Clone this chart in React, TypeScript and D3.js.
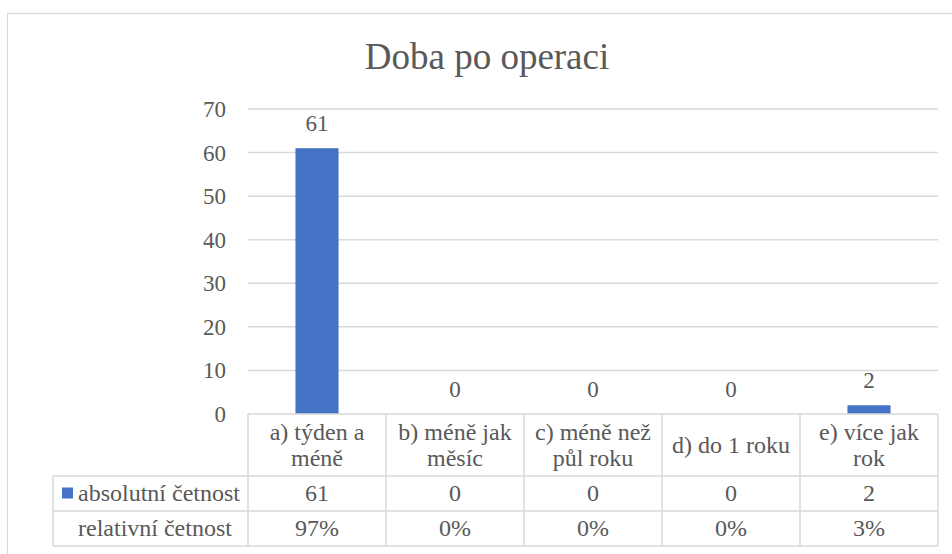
import React from "react";
import * as d3 from "d3";

const title = "Doba po operaci";
const categories = [
  ["a) týden a", "méně"],
  ["b) méně jak", "měsíc"],
  ["c) méně než", "půl roku"],
  ["d) do 1 roku"],
  ["e) více jak", "rok"],
];
const absolute = [61, 0, 0, 0, 2];
const relative = ["97%", "0%", "0%", "0%", "3%"];
const seriesNames = ["absolutní četnost", "relativní četnost"];
const yTicks = [0, 10, 20, 30, 40, 50, 60, 70];

const W = 952;
const H = 554;
const FONT = "Liberation Serif";
const TEXT = "#595959";
const GRID = "#d9d9d9";
const BAR = "#4472C4";

const left = 248;
const right = 938;
const top = 109;
const bottom = 414;
const headerBottom = 476;
const row2Bottom = 511;
const tableBottom = 546;
const tableLeft = 53;

export default function App() {
  const idx = d3.range(categories.length);
  const x = d3.scaleBand<number>().domain(idx).range([left, right]).paddingInner(0.688).paddingOuter(0.344);
  const cols = d3.scaleBand<number>().domain(idx).range([left, right]);
  const y = d3.scaleLinear().domain([0, 70]).range([bottom, top]);

  const ts = { fontFamily: FONT };
  const colX = (i: number) => cols(i)! + cols.bandwidth() / 2;
  const rows = [absolute.map(String), relative];
  const rowMids = [(headerBottom + row2Bottom) / 2, (row2Bottom + tableBottom) / 2];
  const headerMid = (bottom + headerBottom) / 2;

  const hLines = [
    [left, bottom, right, bottom],
    [tableLeft, headerBottom, right, headerBottom],
    [tableLeft, row2Bottom, right, row2Bottom],
    [tableLeft, tableBottom, right, tableBottom],
    [tableLeft, headerBottom, tableLeft, tableBottom],
  ];
  const vLines = idx.map((i) => cols(i)!).concat([right]);

  return (
    <svg width={W} height={H} style={{ position: "absolute", left: 0, top: 0 }}>
      <rect x={7.5} y={13.5} width={W + 20} height={H + 20} fill="white" stroke={GRID} strokeWidth={1.2} />
      <text x={487} y={69} textAnchor="middle" fontSize={37} fill={TEXT} style={ts}>
        {title}
      </text>

      {yTicks
        .filter((t) => t > 0)
        .map((t) => (
          <line key={"g" + t} x1={left} x2={right} y1={y(t)} y2={y(t)} stroke={GRID} strokeWidth={1.5} />
        ))}
      {yTicks.map((t) => (
        <text key={"y" + t} x={226} y={y(t)} dy="0.35em" textAnchor="end" fontSize={23} fill={TEXT} style={ts}>
          {t}
        </text>
      ))}

      {absolute.map((v, i) => (
        <rect key={"b" + i} x={x(i)} width={x.bandwidth()} y={y(v)} height={bottom - y(v)} fill={BAR} />
      ))}
      {absolute.map((v, i) => (
        <text
          key={"l" + i}
          x={x(i)! + x.bandwidth() / 2}
          y={y(v) - 17}
          textAnchor="middle"
          fontSize={23}
          fill={TEXT}
          style={ts}
        >
          {v}
        </text>
      ))}

      {hLines.map((l, i) => (
        <line key={"h" + i} x1={l[0]} y1={l[1]} x2={l[2]} y2={l[3]} stroke={GRID} strokeWidth={1.5} />
      ))}
      {vLines.map((vx, i) => (
        <line key={"v" + i} x1={vx} y1={bottom} x2={vx} y2={tableBottom} stroke={GRID} strokeWidth={1.5} />
      ))}

      {categories.map((lines, i) =>
        lines.map((s, k) => (
          <text
            key={"c" + i + k}
            x={colX(i)}
            y={headerMid + (k - (lines.length - 1) / 2) * 26}
            dy="0.33em"
            textAnchor="middle"
            fontSize={24}
            fill={TEXT}
            style={ts}
          >
            {s}
          </text>
        ))
      )}

      {rows.map((vals, r) => (
        <g key={"r" + r}>
          {vals.map((v, i) => (
            <text key={i} x={colX(i)} y={rowMids[r]} dy="0.32em" textAnchor="middle" fontSize={24} fill={TEXT} style={ts}>
              {v}
            </text>
          ))}
          <text x={78} y={rowMids[r]} dy="0.32em" fontSize={24} fill={TEXT} style={ts}>
            {seriesNames[r]}
          </text>
        </g>
      ))}
      <rect x={62} y={rowMids[0] - 6} width={11} height={11} fill={BAR} />
    </svg>
  );
}
